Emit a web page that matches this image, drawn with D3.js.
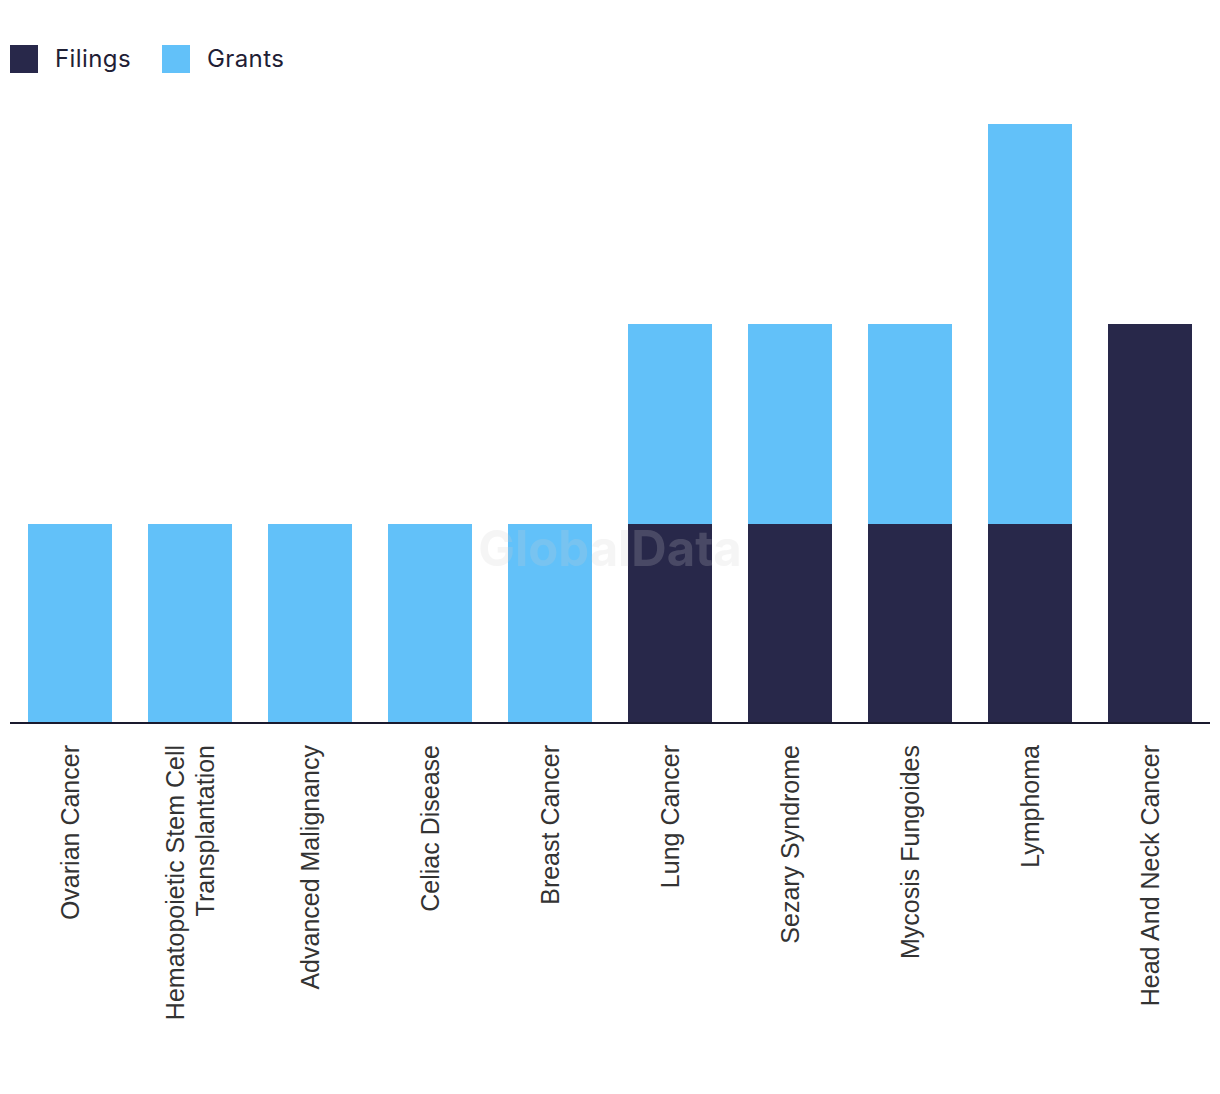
<!DOCTYPE html>
<html><head><meta charset="utf-8">
<script src="https://cdn.jsdelivr.net/npm/d3@7"></script>
<style>body{margin:0;background:#fff}svg{display:block}</style>
</head><body>
<svg id="chart" width="1220" height="1094"></svg>
<script>
const categories = ["Ovarian Cancer","Hematopoietic Stem Cell Transplantation","Advanced Malignancy","Celiac Disease","Breast Cancer","Lung Cancer","Sezary Syndrome","Mycosis Fungoides","Lymphoma","Head And Neck Cancer"];
const labelLines = [["Ovarian Cancer"],["Hematopoietic Stem Cell","Transplantation"],["Advanced Malignancy"],["Celiac Disease"],["Breast Cancer"],["Lung Cancer"],["Sezary Syndrome"],["Mycosis Fungoides"],["Lymphoma"],["Head And Neck Cancer"]];
const filings = [0,0,0,0,0,1,1,1,1,2];
const grants  = [1,1,1,1,1,1,1,1,2,0];
const seriesNames = ["Filings","Grants"];
const colors = ["#28284a","#62c1f9"];

const svg = d3.select("#chart");
const baseY = 724, topY = 124;
const x = d3.scaleBand().domain(categories).range([10,1210]).paddingInner(0.3).paddingOuter(0.15);
const y = d3.scaleLinear().domain([0,3]).range([baseY, topY]);

const data = categories.map((c,i)=>({cat:c, Filings:filings[i], Grants:grants[i]}));
const stack = d3.stack().keys(seriesNames)(data);

svg.append("g").selectAll("g").data(stack).join("g")
  .attr("fill",(d,i)=>colors[i])
  .selectAll("rect").data(d=>d).join("rect")
  .attr("x",d=>x(d.data.cat))
  .attr("width",x.bandwidth())
  .attr("y",d=>y(d[1]))
  .attr("height",d=>y(d[0])-y(d[1]));

// watermark
svg.append("text").attr("x",610).attr("y",566).attr("text-anchor","middle")
  .attr("font-family","Inter, 'Open Sans', sans-serif").attr("font-weight",700)
  .attr("font-size",49).attr("fill","#cfcfcf").attr("opacity",0.2).text("GlobalData");

// axis
const ax = svg.append("g").attr("transform",`translate(0,${baseY-1})`).call(d3.axisBottom(x).tickSize(0).tickFormat(""));
ax.select(".domain").attr("stroke","#1a1a2e").attr("stroke-width",2).attr("d","M10,0H1210");

const lab = svg.append("g");
categories.forEach((c,i)=>{
  const lines = labelLines[i];
  const cx = x(c)+x.bandwidth()/2;
  const n = lines.length;
  lines.forEach((ln,j)=>{
    const off = (j-(n-1)/2)*30;
    lab.append("text")
      .attr("transform",`translate(${cx+off+8.5},745) rotate(-90)`)
      .attr("text-anchor","end")
      .attr("font-family","'Liberation Sans', Arial, sans-serif")
      .attr("font-size",25).attr("fill","#333")
      .text(ln);
  });
});

// legend
const leg = svg.append("g");
const legX = [10,162];
seriesNames.forEach((s,i)=>{
  leg.append("rect").attr("x",legX[i]).attr("y",45).attr("width",28).attr("height",28).attr("fill",colors[i]);
  leg.append("text").attr("x",legX[i]+45).attr("y",67).attr("font-family","Inter, sans-serif")
    .attr("font-size",24).attr("letter-spacing",0.4).attr("fill","#1f2035").text(s);
});
</script>
</body></html>
